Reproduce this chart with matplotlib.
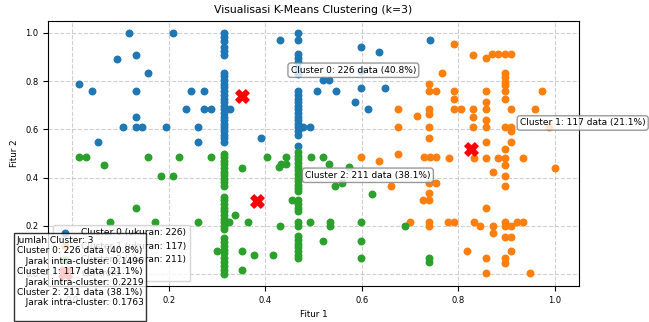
import matplotlib
matplotlib.use('Agg')
import matplotlib.pyplot as plt

# cluster 0 (biru)
c0_x = [0.015, 0.041, 0.053, 0.092, 0.106, 0.117, 0.132, 0.132, 0.132, 0.132, 0.145, 0.157, 0.194,
        0.208, 0.235, 0.247, 0.261, 0.261, 0.274, 0.274, 0.287, 0.328, 0.391, 0.430, 0.479, 0.493,
        0.507, 0.519, 0.533, 0.546, 0.586, 0.599, 0.599, 0.599, 0.612, 0.636, 0.649, 0.741]
c0_y = [0.789, 0.758, 0.547, 0.894, 0.608, 1.000, 0.909, 0.758, 0.653, 0.608, 0.608, 0.834, 0.608,
        1.000, 0.683, 0.758, 0.608, 0.549, 0.758, 0.683, 0.683, 0.683, 0.562, 0.970, 0.608, 0.608,
        0.758, 0.805, 0.805, 0.758, 0.713, 0.940, 0.844, 0.772, 0.683, 0.923, 0.772, 0.970]
c0_colA_y = [1.0, 0.984, 0.967, 0.942, 0.926, 0.909, 0.835, 0.82, 0.805, 0.79, 0.775, 0.758, 0.743,
             0.728, 0.713, 0.698, 0.683, 0.668, 0.653, 0.638, 0.623, 0.608, 0.593, 0.578, 0.563, 0.549]
c0_colB_y = [1.0, 0.97, 0.912, 0.896, 0.88, 0.85, 0.83, 0.758, 0.743, 0.728, 0.713, 0.698, 0.683,
             0.668, 0.653, 0.638, 0.623, 0.608, 0.593, 0.578, 0.532]

# cluster 1 (oranye)
c1_x = [0.792, 0.831, 0.857, 0.869, 0.883, 0.896, 0.909,
        0.766, 0.740, 0.740, 0.754, 0.792, 0.792, 0.857, 0.857,
        0.896, 0.896, 0.896, 0.896, 0.896, 0.896, 0.974,
        0.675, 0.715, 0.740, 0.740, 0.792, 0.806, 0.831, 0.831, 0.857, 0.857, 0.909, 0.960,
        0.675, 0.740, 0.740, 0.831, 0.857, 0.857, 0.896, 0.909, 0.909, 0.909, 0.896, 0.988,
        0.599, 0.636, 0.676, 0.728, 0.741, 0.754, 0.781, 0.832, 0.858, 0.883, 0.897, 0.935, 0.897,
        1.000, 0.871, 0.897, 0.897, 0.661, 0.740, 0.754, 0.740, 0.727, 0.740, 0.858,
        0.701, 0.740, 0.740, 0.778, 0.792, 0.832, 0.845, 0.871, 0.871, 0.897, 0.897, 0.909, 0.922,
        0.935, 0.897, 0.909, 0.819, 0.909, 0.858, 0.897, 0.897, 0.858, 0.948]
c1_y = [0.955, 0.909, 0.896, 0.912, 0.912, 0.912, 0.912,
        0.834, 0.789, 0.758, 0.758, 0.758, 0.727, 0.758, 0.713,
        0.834, 0.816, 0.798, 0.782, 0.758, 0.727, 0.758,
        0.683, 0.654, 0.683, 0.665, 0.683, 0.683, 0.683, 0.651, 0.683, 0.638, 0.683, 0.683,
        0.608, 0.608, 0.565, 0.608, 0.608, 0.549, 0.608, 0.608, 0.593, 0.547, 0.517, 0.608,
        0.486, 0.469, 0.499, 0.486, 0.486, 0.486, 0.483, 0.483, 0.483, 0.483, 0.483, 0.483, 0.454,
        0.440, 0.424, 0.407, 0.363, 0.363, 0.377, 0.377, 0.336, 0.305, 0.305, 0.273,
        0.215, 0.215, 0.199, 0.215, 0.215, 0.214, 0.199, 0.199, 0.169, 0.214, 0.199, 0.199, 0.214,
        0.214, 0.152, 0.152, 0.095, 0.095, 0.065, 0.065, 0.047, 0.004, 0.004]

# cluster 2 (hijau)
c2_x = [0.015, 0.028, 0.157, 0.221, 0.287, 0.404, 0.443, 0.495, 0.520,
        0.066, 0.185, 0.208, 0.132, 0.078, 0.171, 0.261, 0.300, 0.326, 0.337, 0.351, 0.351, 0.351,
        0.364, 0.376, 0.417, 0.430, 0.428, 0.433, 0.443, 0.455, 0.493, 0.533, 0.534, 0.534, 0.520,
        0.544, 0.559, 0.573, 0.599, 0.599, 0.599, 0.622, 0.689, 0.740, 0.740]
c2_y = [0.486, 0.486, 0.486, 0.486, 0.486, 0.486, 0.486, 0.486, 0.486,
        0.454, 0.407, 0.407, 0.273, 0.214, 0.214, 0.215, 0.095, 0.215, 0.243, 0.439, 0.095, 0.018,
        0.215, 0.078, 0.078, 0.199, 0.442, 0.456, 0.456, 0.305, 0.215, 0.457, 0.215, 0.199, 0.137,
        0.363, 0.377, 0.443, 0.215, 0.137, 0.065, 0.333, 0.199, 0.066, 0.048]
c2_colA_y = [0.499, 0.486, 0.47, 0.455, 0.44, 0.425, 0.41, 0.395, 0.38, 0.365,
             0.32, 0.305, 0.29, 0.274, 0.26, 0.244, 0.229, 0.215, 0.199, 0.185,
             0.147, 0.132, 0.117, 0.1, 0.085, 0.065, 0.048, 0.032, 0.016, 0.0]
c2_colB_y = [0.506, 0.49, 0.475, 0.46, 0.445, 0.43, 0.415, 0.4, 0.385, 0.37, 0.355, 0.343,
             0.305, 0.29, 0.275, 0.26, 0.215, 0.199,
             0.156, 0.14, 0.125, 0.11, 0.095, 0.08, 0.065]

col_a, col_b = 0.314, 0.468

centroid_x = [0.352, 0.827, 0.382]
centroid_y = [0.737, 0.518, 0.301]
sizes = [226, 117, 211]
persen = [40.8, 21.1, 38.1]
jarak = [0.1496, 0.2219, 0.1763]

clusters = [
    (c0_x + [col_a] * len(c0_colA_y) + [col_b] * len(c0_colB_y), c0_y + c0_colA_y + c0_colB_y),
    (c1_x, c1_y),
    (c2_x + [col_a] * len(c2_colA_y) + [col_b] * len(c2_colB_y), c2_y + c2_colA_y + c2_colB_y),
]
colors = ['#1f77b4', '#ff7f0e', '#2ca02c']

fig = plt.figure(figsize=(6.49, 3.22), dpi=100)
ax = fig.add_axes([0.074, 0.112, 0.818, 0.823])

for i, ((xs, ys), color) in enumerate(zip(clusters, colors)):
    ax.scatter(xs, ys, s=22, color=color, label=f'Cluster {i} (ukuran: {sizes[i]})', zorder=2)

ax.scatter(centroid_x, centroid_y, s=90, c='red', marker='X', label='Centroid', zorder=3)

for i in range(3):
    ax.annotate(f'Cluster {i}: {sizes[i]} data ({persen[i]}%)',
                xy=(centroid_x[i], centroid_y[i]), xytext=(35, 17), textcoords='offset points',
                fontsize=6.5,
                bbox=dict(boxstyle='round,pad=0.3', fc='white', ec='gray', alpha=0.8))

ax.set_xlim(-0.05, 1.05)
ax.set_ylim(-0.05, 1.05)
ax.set_title('Visualisasi K-Means Clustering (k=3)', fontsize=7.8)
ax.set_xlabel('Fitur 1', fontsize=6.3)
ax.set_ylabel('Fitur 2', fontsize=6.3)
ax.tick_params(labelsize=6)
ax.grid(True, linestyle='--', alpha=0.6)
ax.legend(loc='lower left', fontsize=6.5)

# kotak info (terpotong di bawah gambar)
info = 'Jumlah Cluster: 3\n'
for i in range(3):
    info += f'Cluster {i}: {sizes[i]} data ({persen[i]}%)\n'
    info += f'   Jarak intra-cluster: {jarak[i]:.4f}\n'
fig.text(0.0257, 0.267, info, fontsize=6.5, va='top', ha='left',
         bbox=dict(boxstyle='square,pad=0.3', fc='white', ec='black', alpha=0.8))

plt.savefig('out.png', dpi=100)
plt.close()
